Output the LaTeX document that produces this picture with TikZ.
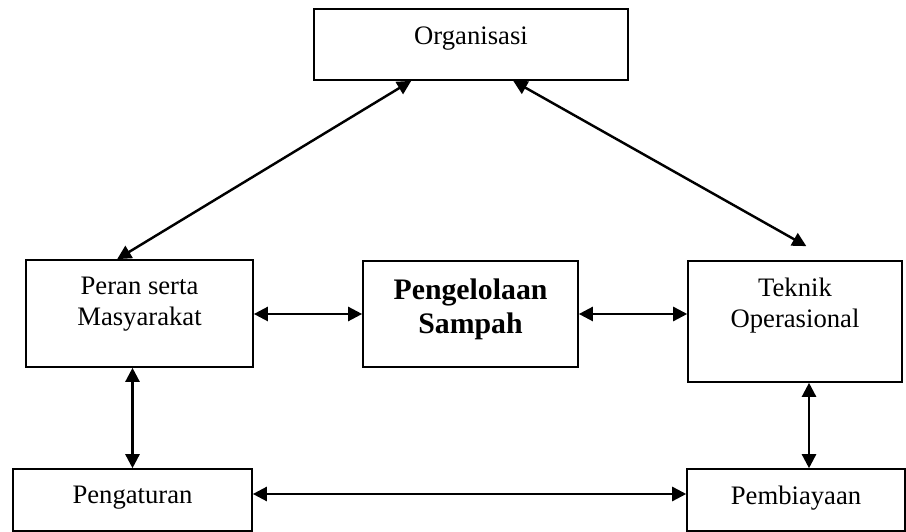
\documentclass[tikz,border=0pt]{standalone}
\usepackage{fontspec}
\setmainfont{Liberation Serif}
\usetikzlibrary{arrows.meta,positioning}

\begin{document}
\begin{tikzpicture}[x=0.45pt,y=0.45pt,
  box/.style={draw,line width=0.7pt,inner sep=0pt},
  lbl/.style={align=center,inner sep=0pt,font=\fontsize{12}{13.8}\selectfont},
  lblb/.style={align=center,inner sep=0pt,font=\bfseries\fontsize{13.4}{15.3}\selectfont},
  dbl/.style={{Triangle[length=6.3pt,width=6.3pt]}-{Triangle[length=6.3pt,width=6.3pt]},line width=1.1pt}]
  \useasboundingbox (0,0) rectangle (906,532);
  % boxes
  \node[box,minimum width=141.3pt,minimum height=32pt]   (org)    at (471,487.5) {};
  \node[box,minimum width=102.2pt,minimum height=48.2pt] (peran)  at (139.5,218.5) {};
  \node[box,minimum width=96.8pt,minimum height=47.7pt]  (sampah) at (470.5,218) {};
  \node[box,minimum width=96.3pt,minimum height=54.5pt]  (teknik) at (795,210.5) {};
  \node[box,minimum width=107.6pt,minimum height=27.9pt] (atur)   at (132.5,32) {};
  \node[box,minimum width=98.1pt,minimum height=27.9pt]  (biaya)  at (796,32) {};
  % texts
  \node[lbl,below=8pt of org.north]     (org-t)    {Organisasi};
  \node[lbl,below=8pt of peran.north]   (peran-t)  {Peran serta\\Masyarakat};
  \node[lblb,below=8pt of sampah.north] (sampah-t) {Pengelolaan\\Sampah};
  \node[lbl,below=8pt of teknik.north]  (teknik-t) {Teknik\\Operasional};
  \node[lbl,below=8pt of atur.north]    (atur-t)   {Pengaturan};
  \node[lbl,below=8pt of biaya.north]   (biaya-t)  {Pembiayaan};
  % links
  \draw[dbl] ([xshift=44.1pt]org.south west) -- ([xshift=41.4pt]peran.north west);
  \draw[dbl] ([xshift=90pt]org.south west) -- ([xshift=53.6pt,yshift=6.3pt]teknik.north west);
  \draw[dbl] (sampah.west -| peran.east) -- (sampah.west);
  \draw[dbl] (sampah.east) -- (sampah.east -| teknik.west);
  \draw[dbl] (atur.north |- peran.south) -- (atur.north);
  \draw[dbl] ([xshift=6.3pt]teknik.south) -- ([xshift=6.3pt]teknik.south |- biaya.north);
  \draw[dbl] ([yshift=2.7pt]atur.east) -- ([yshift=2.7pt]biaya.west);
\end{tikzpicture}
\end{document}
